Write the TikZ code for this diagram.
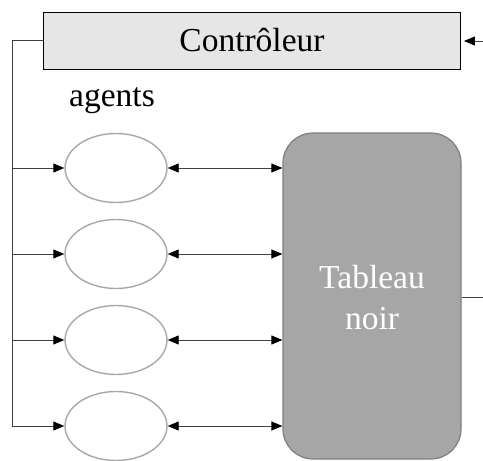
\documentclass[tikz,border=0pt]{standalone}
\usepackage{fontspec}
\setmainfont{Liberation Serif}
\usetikzlibrary{arrows.meta,shapes.geometric}
\definecolor{ctrlfill}{HTML}{E6E6E6}
\definecolor{boardfill}{HTML}{A6A6A6}
\definecolor{boardedge}{HTML}{7F7F7F}
\definecolor{agentedge}{HTML}{A8A8A8}
\definecolor{wire}{HTML}{404040}
\tikzset{
  bigtext/.style={font=\fontsize{33.5}{41}\selectfont},
  ctrlbox/.style={draw=black, line width=0.9pt, fill=ctrlfill, bigtext,
    minimum width=417pt, minimum height=57pt, inner sep=0pt},
  agent/.style={ellipse, draw=agentedge, line width=1.4pt, fill=white,
    minimum width=102pt, minimum height=69pt, inner sep=0pt},
  board/.style={draw=boardedge, line width=1.2pt, fill=boardfill,
    rounded corners=30pt, minimum width=178pt, minimum height=326pt,
    text=white, bigtext, align=center, inner sep=0pt},
  conn/.style={draw=wire, line width=0.9pt},
  head/.style={Triangle[length=11pt,width=9pt,color=black]},
  tip/.style={-{Triangle[length=11pt,width=9pt,color=black]}},
  bitip/.style={{Triangle[length=11pt,width=9pt,color=black]}-{Triangle[length=11pt,width=9pt,color=black]}}
}
\begin{document}
\begin{tikzpicture}[x=1pt,y=-1pt]
\useasboundingbox (0,0) rectangle (483,461);

% controller and its label
\node[ctrlbox] (ctrl) at (252,40.5) {Contrôleur};
\node[bigtext] (lbl) at (112,101) {agents};

% the agents
\node[agent] (a1) at (116,168) {};
\node[agent] (a2) at (116,254) {};
\node[agent] (a3) at (116,340) {};
\node[agent] (a4) at (116,426) {};

% the blackboard
\node[board] (bb) at (372,296) {};
\node[text=white, bigtext, align=center] (bbt) at (372,298) {Tableau\\noir};

% controller bus down the left side
\coordinate (lt) at (12,40.5);
\draw[conn,tip] (ctrl.west) -- (lt) |- (a4.west);
\foreach \a in {a1,a2,a3}
  \draw[conn,tip] (lt |- \a.west) -- (\a.west);

% agents <-> blackboard
\foreach \a in {a1,a2,a3,a4}
  \draw[conn,bitip] (\a.east) -- (\a.east -| bb.west);

% feedback in and out on the right
\coordinate (rin) at (483,41);
\coordinate (rout) at (483,297);
\draw[conn,tip,shorten >=3pt] (rin) -- (ctrl.east |- rin);
\draw[conn] (bb.east |- rout) -- (rout);
\end{tikzpicture}
\end{document}
